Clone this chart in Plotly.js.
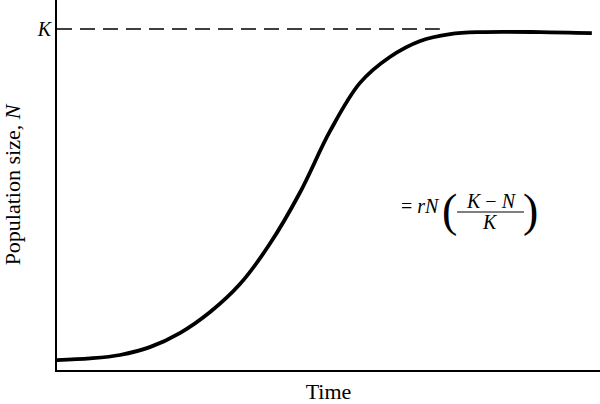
<!DOCTYPE html>
<html>
<head>
<meta charset="utf-8">
<script src="https://cdn.plot.ly/plotly-3.0.1.min.js"></script>
<style>html,body{margin:0;padding:0;background:#fff;}#chart{width:600px;height:404px;}</style>
</head>
<body>
<div id="chart"></div>
<script>
// Data (time in arbitrary units, N as % of K)
const time = [0.00, 0.61, 1.16, 1.71, 2.27, 2.82, 3.37, 3.92, 4.48, 5.03, 5.58, 6.13, 6.69, 7.24, 7.79, 8.90, 9.85];
const population = [2.9, 3.4, 4.4, 6.7, 10.9, 17.0, 25.2, 37.0, 52.2, 70.1, 84.2, 91.8, 96.5, 98.5, 99.1, 99.1, 98.8];
const K = 100;
const kLineTime = [0, 7.05];
const kLineValue = [K, K];
const yTickVals = [K];
const yTickText = ['<i>K</i>'];

const serif = 'Liberation Serif, Times New Roman, serif';

// helpers converting pixel positions of the figure to paper coords
const L = 57, R = 600, T = 0, B = 370;
const px = v => (v - L) / (R - L);
const py = v => (B - v) / (B - T);

const traces = [
  {
    x: kLineTime, y: kLineValue, mode: 'lines', type: 'scatter',
    line: {color: '#000', width: 1.4, dash: '15px,8px'},
    hoverinfo: 'skip', showlegend: false
  },
  {
    x: time, y: population, mode: 'lines', type: 'scatter',
    line: {color: '#000', width: 3.8, shape: 'spline', smoothing: 1},
    showlegend: false
  }
];

const layout = {
  width: 600, height: 404,
  margin: {l: L, r: 0, t: 0, b: 404 - B, pad: 0},
  paper_bgcolor: '#fff', plot_bgcolor: '#fff',
  font: {family: serif, color: '#000'},
  showlegend: false,
  xaxis: {
    range: [0, 10], showgrid: false, zeroline: false,
    showline: true, linecolor: '#000', linewidth: 2,
    ticks: '', showticklabels: false,
    title: {text: 'Time', font: {family: serif, size: 22, color: '#000'}, standoff: 22}
  },
  yaxis: {
    range: [0, 108.5], showgrid: false, zeroline: false,
    showline: true, linecolor: '#000', linewidth: 2,
    ticks: '', tickvals: yTickVals, ticktext: yTickText,
    tickfont: {family: serif, size: 20, color: '#000'},
    title: {text: 'Population size, <i>N</i>', font: {family: serif, size: 22, color: '#000'}, standoff: 18}
  },
  annotations: [
    {xref: 'paper', yref: 'paper', x: px(442), y: py(206), xanchor: 'right', yanchor: 'middle',
     text: '= <i>rN</i>', showarrow: false, font: {family: serif, size: 20, color: '#000'}},
    {xref: 'paper', yref: 'paper', x: px(449), y: py(210), xanchor: 'center', yanchor: 'middle',
     text: '(', showarrow: false, font: {family: serif, size: 46, color: '#000'}},
    {xref: 'paper', yref: 'paper', x: px(491), y: py(201), xanchor: 'center', yanchor: 'middle',
     text: '<i>K</i> − <i>N</i>', showarrow: false, font: {family: serif, size: 20, color: '#000'}},
    {xref: 'paper', yref: 'paper', x: px(490), y: py(222), xanchor: 'center', yanchor: 'middle',
     text: '<i>K</i>', showarrow: false, font: {family: serif, size: 20, color: '#000'}},
    {xref: 'paper', yref: 'paper', x: px(530), y: py(210), xanchor: 'center', yanchor: 'middle',
     text: ')', showarrow: false, font: {family: serif, size: 46, color: '#000'}}
  ],
  shapes: [
    {type: 'line', xref: 'paper', yref: 'paper', x0: px(457), x1: px(524), y0: py(212), y1: py(212),
     line: {color: '#000', width: 1}}
  ]
};

Plotly.newPlot('chart', traces, layout, {displayModeBar: false, staticPlot: true});
</script>
</body>
</html>
